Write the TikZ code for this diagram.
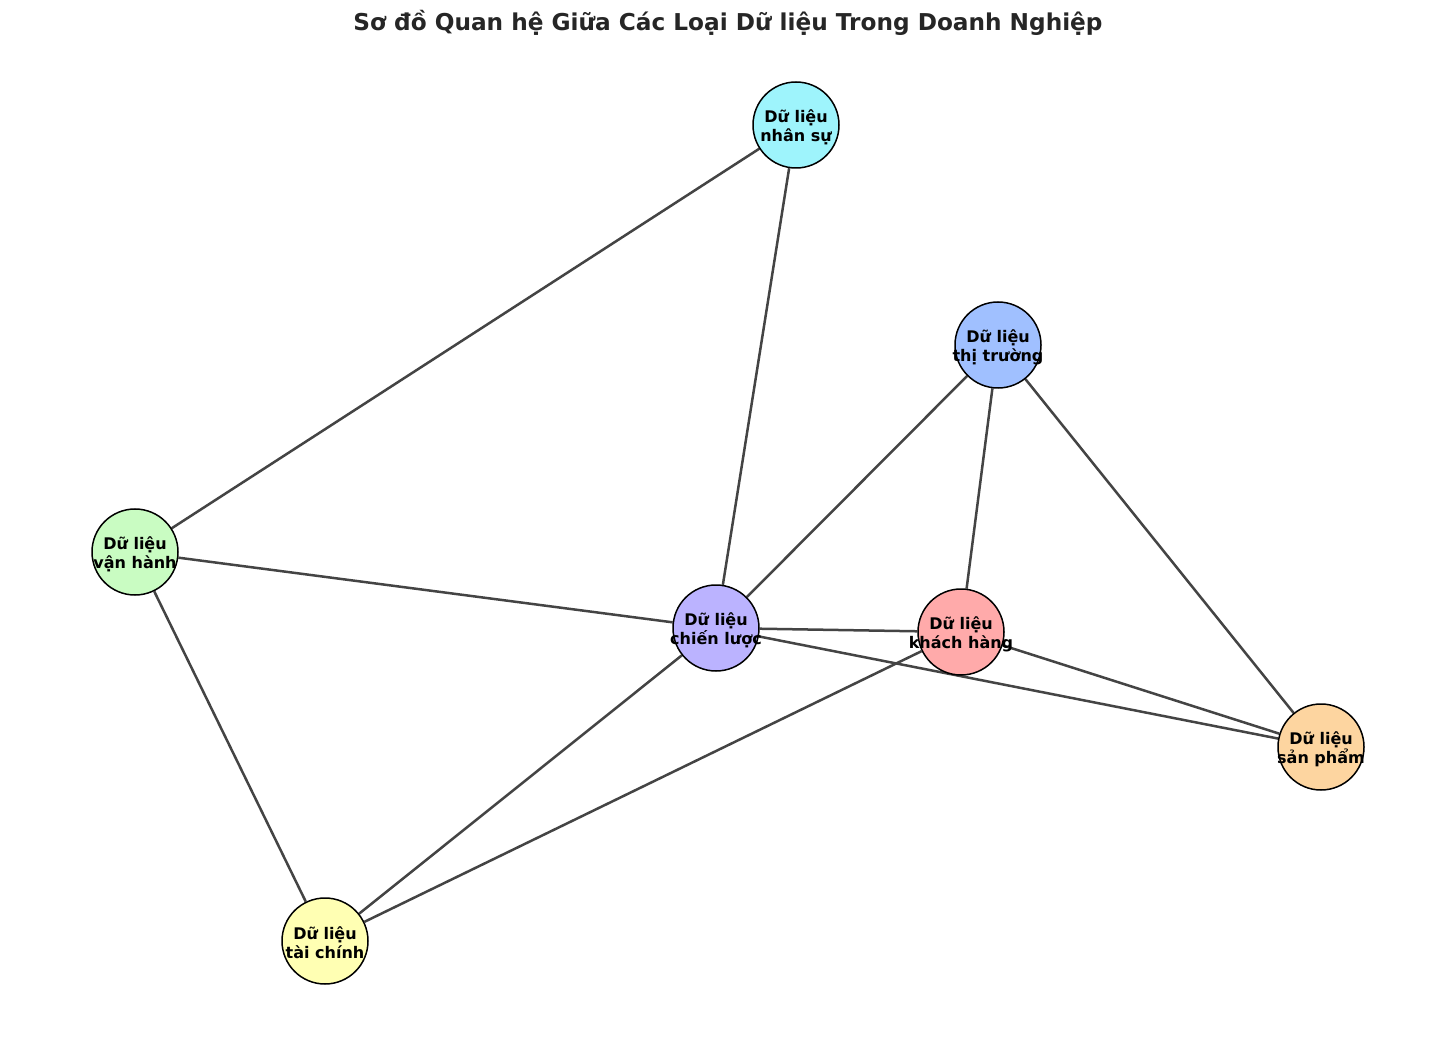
\documentclass[tikz,border=0pt]{standalone}
\usepackage{fontspec}
\setmainfont{DejaVu Sans}
\usetikzlibrary{backgrounds}
\definecolor{edgec}{HTML}{444444}
\definecolor{titlec}{HTML}{262626}
\definecolor{cNS}{HTML}{9EF4FC}
\definecolor{cTT}{HTML}{A0C0FF}
\definecolor{cVH}{HTML}{C9FCC2}
\definecolor{cCL}{HTML}{BBB3FF}
\definecolor{cKH}{HTML}{FFAAAA}
\definecolor{cSP}{HTML}{FDD5A0}
\definecolor{cTC}{HTML}{FFFFB3}
\tikzset{
  circ/.style={circle, draw=black, line width=0.75pt, minimum size=43pt, inner sep=0pt},
  lab/.style={align=center, font=\fontsize{8}{9.6}\selectfont\bfseries, text=black, inner sep=0pt},
  edge/.style={draw=edgec, line width=1.25pt},
  ttl/.style={font=\fontsize{11.6}{13}\selectfont\bfseries, text=titlec}
}
\begin{document}
\begin{tikzpicture}[x=0.5pt,y=-0.5pt]
\useasboundingbox (0,0) rectangle (1456,1037);
\node[ttl] (title) at (728,23) {Sơ đồ Quan hệ Giữa Các Loại Dữ liệu Trong Doanh Nghiệp};
\node[circ, fill=cNS] (ns) at (796,125) {};
\node[circ, fill=cTT] (tt) at (998,345) {};
\node[circ, fill=cVH] (vh) at (135,552) {};
\node[circ, fill=cCL] (cl) at (716,628) {};
\node[circ, fill=cKH] (kh) at (961,632) {};
\node[circ, fill=cSP] (sp) at (1321,747) {};
\node[circ, fill=cTC] (tc) at (325,941) {};
\begin{scope}[on background layer]
\fill[white] (0,0) rectangle (1456,1037);
\draw[edge] (ns) -- (vh);
\draw[edge] (ns) -- (cl);
\draw[edge] (tt) -- (cl);
\draw[edge] (tt) -- (kh);
\draw[edge] (tt) -- (sp);
\draw[edge] (vh) -- (cl);
\draw[edge] (vh) -- (tc);
\draw[edge] (cl) -- (kh);
\draw[edge] (cl) -- (sp);
\draw[edge] (cl) -- (tc);
\draw[edge] (kh) -- (sp);
\draw[edge] (kh) -- (tc);
\end{scope}
\node[lab] (lns) at ([yshift=-1pt]ns) {Dữ liệu\\nhân sự};
\node[lab] (ltt) at ([yshift=-1pt]tt) {Dữ liệu\\thị trường};
\node[lab] (lvh) at ([yshift=-1pt]vh) {Dữ liệu\\vận hành};
\node[lab] (lcl) at ([yshift=-1pt]cl) {Dữ liệu\\chiến lược};
\node[lab] (lkh) at ([yshift=-1pt]kh) {Dữ liệu\\khách hàng};
\node[lab] (lsp) at ([yshift=-1pt]sp) {Dữ liệu\\sản phẩm};
\node[lab] (ltc) at ([yshift=-1pt]tc) {Dữ liệu\\tài chính};
\end{tikzpicture}
\end{document}
